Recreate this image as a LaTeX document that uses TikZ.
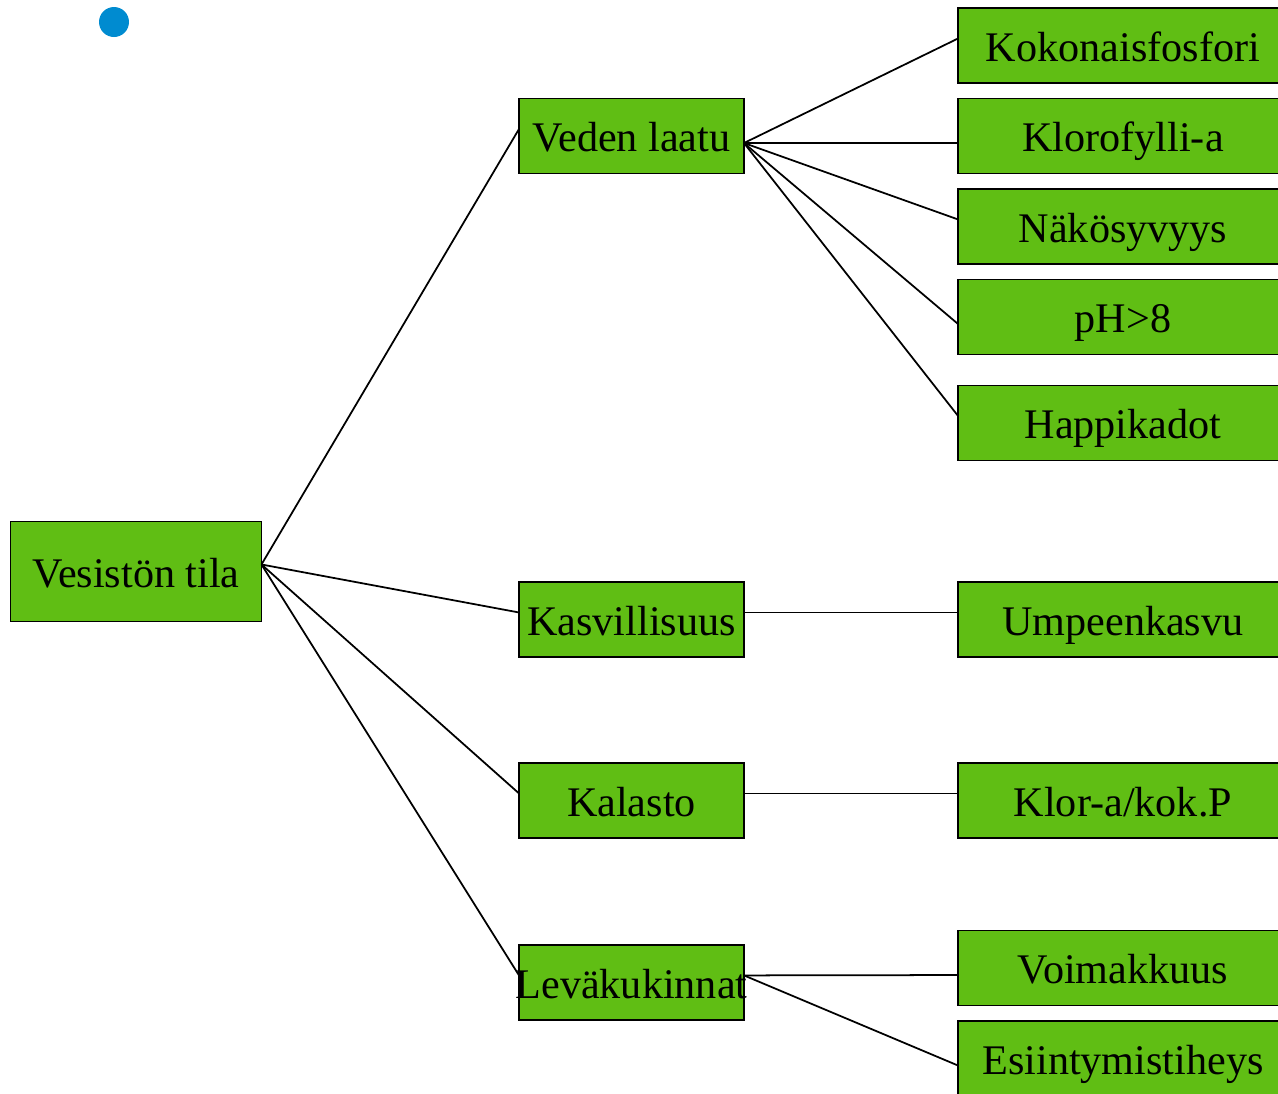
\documentclass[tikz,border=0pt]{standalone}
\usepackage{fontspec}
\setmainfont{Liberation Serif}
\usepackage{tikz}
\usetikzlibrary{positioning,shapes}
\definecolor{leaf}{HTML}{60BE14}
\definecolor{sky}{HTML}{008BD0}
\newcommand{\boxfont}{\fontsize{24}{28}\selectfont}
\tikzset{
    %Define style for boxes
    box/.style={
   	rectangle,
   	draw=black, line width=1pt,
   	outer sep=0pt,
   	minimum width=4.5cm,
   	minimum height=1.5cm,
   	inner sep=0pt,
   	text height=18pt,
   	text depth=0pt,
   	font=\boxfont,
   	text centered,
   	fill=leaf
   },
   rootbox/.style={box, minimum width=5.02cm, minimum height=2cm},
   leafbox/.style={box, minimum width=6.6cm},
    % Define line style
    link/.style={draw=black, line width=1pt},
    hi/.style={yshift=4pt},
    lo/.style={yshift=-4pt}
}
\begin{document}
\begin{tikzpicture}[x=0.02cm,y=-0.02cm,node distance=0.31cm]
		\useasboundingbox (0,0) rectangle (1278,1093);
		\node[circle,fill=sky,minimum size=0.6cm,inner sep=0pt](dot) at (114,22){};
		\node[rootbox](vt) at (136,571.5){Vesistön tila};
		\node[box](vl) at (631.5,136){Veden laatu};
		\node[box](ka) at (631.5,619.5){Kasvillisuus};
		\node[box, below=2.12cm of ka](kl){Kalasto};
		\node[box, below=2.14cm of kl](lk){\makebox[0pt]{Leväkukinnat}};
		\node[leafbox](kf) at (1123,45.5){Kokonaisfosfori};
		\node[leafbox, below=of kf](kla){Klorofylli-a};
		\node[leafbox, below=of kla](ns){Näkösyvyys};
		\node[leafbox, below=of ns](ph){pH>8};
		\node[leafbox, below=0.62cm of ph](hk){Happikadot};
		\node[leafbox, right=4.28cm of ka](uk){Umpeenkasvu};
		\node[leafbox, right=4.28cm of kl](kp){Klor-a/kok.P};
		\node[leafbox](vm) at (1123,968){Voimakkuus};
		\node[leafbox, below=of vm](et){Esiintymistiheys};
		\path[link]
		([hi]vt.east) edge ([hi]vl.west) edge ([hi]ka.west) edge ([hi]kl.west) edge ([hi]lk.west)
		([lo]vl.east) edge ([hi]kf.west) edge ([lo]kla.west) edge ([hi]ns.west) edge ([lo]ph.west) edge ([hi]hk.west)
		([hi]ka.east) edge ([hi]uk.west)
		([hi]kl.east) edge ([hi]kp.west)
		([hi]lk.east) edge ([lo]vm.west) edge ([lo]et.west);
\end{tikzpicture}
\end{document}
